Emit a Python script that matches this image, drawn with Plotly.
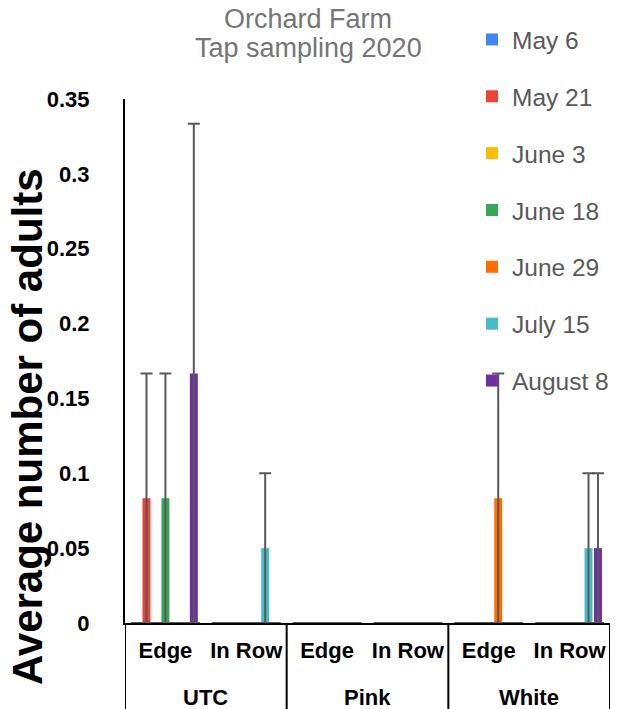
import plotly.graph_objects as go

groups = ["UTC", "UTC", "Pink", "Pink", "White", "White"]
positions = ["Edge", "In Row", "Edge", "In Row", "Edge", "In Row"]

series_names = ["May 6", "May 21", "June 3", "June 18", "June 29", "July 15", "August 8"]
colors = ["#4285F4", "#EA4335", "#FBBC04", "#34A853", "#FF6D01", "#46BDC6", "#7030A0"]

may6 = [0, 0, 0, 0, 0, 0]
may21 = [0.0833, 0, 0, 0, 0, 0]
june3 = [0, 0, 0, 0, 0, 0]
june18 = [0.0833, 0, 0, 0, 0, 0]
june29 = [0, 0, 0, 0, 0.0833, 0]
july15 = [0, 0.05, 0, 0, 0, 0.05]
aug8 = [0.1667, 0, 0, 0, 0, 0.05]

may6_err = [0, 0, 0, 0, 0, 0]
may21_err = [0.0833, 0, 0, 0, 0, 0]
june3_err = [0, 0, 0, 0, 0, 0]
june18_err = [0.0833, 0, 0, 0, 0, 0]
june29_err = [0, 0, 0, 0, 0.0833, 0]
july15_err = [0, 0.05, 0, 0, 0, 0.05]
aug8_err = [0.1667, 0, 0, 0, 0, 0.05]

values = [may6, may21, june3, june18, june29, july15, aug8]
errors = [may6_err, may21_err, june3_err, june18_err, june29_err, july15_err, aug8_err]

# unique category keys, shown with the position label only
x_keys = [f"{g} {p}" for g, p in zip(groups, positions)]

# the page body has an 8px default margin; the figure is sized so the
# photographed window matches the reference layout
OFF = 8
W, H = 619 - OFF, 709 - OFF
L, R, T, B = 125 - OFF, 0, 99 - OFF, 709 - 623
PH = H - T - B
PW = W - L - R
PLOT_RIGHT = 610 - OFF  # right edge of the axis area, in figure pixels

def py(y_ref):
    """reference pixel row -> paper y"""
    return ((623 - OFF) - (y_ref - OFF)) / PH

def px(x_ref):
    return ((x_ref - OFF) - L) / PW

fig = go.Figure()
for name, col, vals, errs in zip(series_names, colors, values, errors):
    fig.add_trace(go.Bar(
        x=x_keys, y=vals, name=name, marker_color=col,
        marker_line_width=0, legendgroup=name,
        error_y=dict(type="data", array=errs, visible=True,
                     color="#595959", thickness=2, width=6),
    ))

fig.update_layout(
    width=W, height=H,
    paper_bgcolor="white", plot_bgcolor="white",
    margin=dict(l=L, r=R, t=T, b=B, autoexpand=False),
    barmode="group", bargap=0.18, bargroupgap=0.16,
    font=dict(family="Liberation Sans, Arial, sans-serif"),
    legend=dict(x=px(472), xanchor="left", y=py(17), yanchor="top",
                font=dict(size=24.5, color="#595959"), bgcolor="rgba(0,0,0,0)",
                tracegroupgap=22, traceorder="grouped", maxheight=650),
    showlegend=True,
)
fig.update_yaxes(range=[0, 0.35], dtick=0.05, showgrid=False, zeroline=False,
                 showline=True, linecolor="black", linewidth=2, ticks="",
                 ticklabelstandoff=29, automargin=False,
                 tickfont=dict(size=22, color="black", family="Liberation Sans, Arial", weight="bold"))
fig.update_xaxes(type="category", tickvals=x_keys, ticktext=positions,
                 domain=[0, (PLOT_RIGHT - L) / PW],
                 showgrid=False, showline=True, linecolor="black", linewidth=2,
                 tickangle=0, automargin=False, ticklabelstandoff=7,
                 range=[-0.5, len(x_keys) - 0.5],
                 tickfont=dict(size=22, color="black", family="Liberation Sans, Arial", weight="bold"))

# group labels and dividers below the axis
group_names = []
for g in groups:
    if g not in group_names:
        group_names.append(g)
for g in group_names:
    idx = [i for i, gg in enumerate(groups) if gg == g]
    fig.add_annotation(text=f"<b>{g}</b>", xref="x", yref="paper",
                       x=sum(idx) / len(idx), y=py(697), xanchor="center", yanchor="middle",
                       showarrow=False,
                       font=dict(size=22, color="black", family="Liberation Sans, Arial"))
boundaries = [-0.5] + [i + 0.5 for i in range(len(groups) - 1) if groups[i] != groups[i + 1]] + [len(groups) - 0.5]
for b in boundaries:
    fig.add_shape(type="line", xref="x", yref="paper", x0=b, x1=b, y0=0, y1=-0.2,
                  line=dict(color="black", width=2))

fig.add_annotation(text="<b>Average number of adults</b>", textangle=-90,
                   xref="paper", yref="paper", x=px(28), y=py(427),
                   xanchor="center", yanchor="middle", showarrow=False,
                   font=dict(size=42, color="black", family="Liberation Sans, Arial"))
fig.add_annotation(text="Orchard Farm", xref="paper", yref="paper",
                   x=px(308), y=py(19.5), xanchor="center", yanchor="middle",
                   showarrow=False, font=dict(size=27, color="#757575"))
fig.add_annotation(text="Tap sampling 2020", xref="paper", yref="paper",
                   x=px(308), y=py(48), xanchor="center", yanchor="middle",
                   showarrow=False, font=dict(size=27, color="#757575"))

fig.write_html("out.html")
